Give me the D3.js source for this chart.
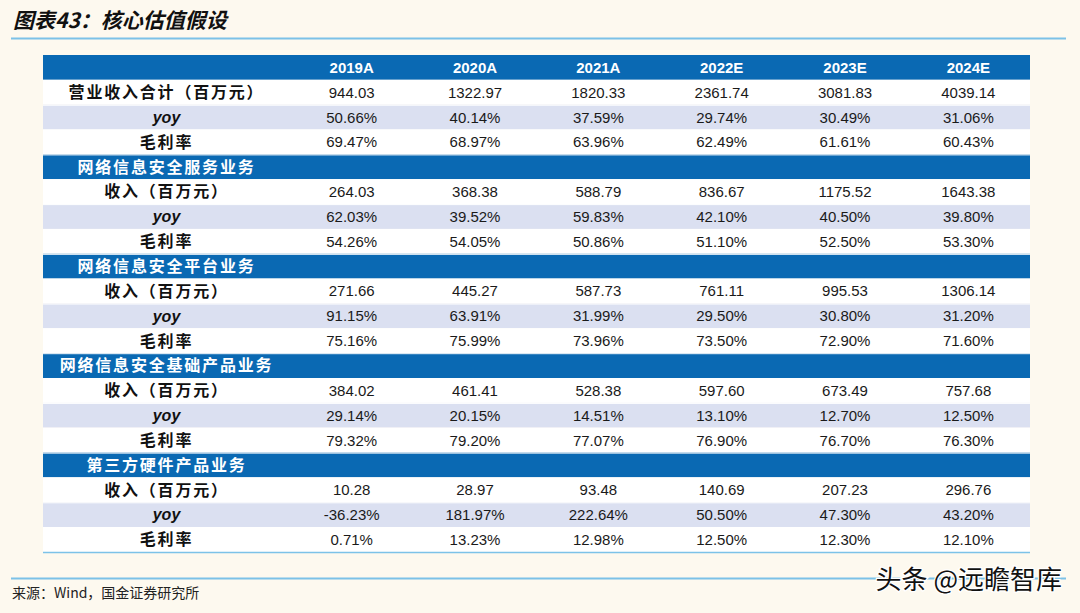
<!DOCTYPE html>
<html><head><meta charset="utf-8">
<script src="https://cdnjs.cloudflare.com/ajax/libs/d3/7.8.5/d3.min.js"></script>
<style>
html,body{margin:0;padding:0;background:#fdf9ef;}
svg{display:block;}
</style></head>
<body>
<svg id="chart" width="1080" height="613"></svg>
<script>
const title = "图表43：核心估值假设";
const source = "来源：Wind，国金证券研究所";
const watermark = "头条 @远瞻智库";
const years = ["2019A","2020A","2021A","2022E","2023E","2024E"];
const sections = ["", "网络信息安全服务业务", "网络信息安全平台业务", "网络信息安全基础产品业务", "第三方硬件产品业务"];
const revLabels = ["营业收入合计（百万元）", "收入（百万元）", "收入（百万元）", "收入（百万元）", "收入（百万元）"];
const totalRev = [944.03,1322.97,1820.33,2361.74,3081.83,4039.14];
const totalYoy = [50.66,40.14,37.59,29.74,30.49,31.06];
const totalGm = [69.47,68.97,63.96,62.49,61.61,60.43];
const serviceRev = [264.03,368.38,588.79,836.67,1175.52,1643.38];
const serviceYoy = [62.03,39.52,59.83,42.10,40.50,39.80];
const serviceGm = [54.26,54.05,50.86,51.10,52.50,53.30];
const platformRev = [271.66,445.27,587.73,761.11,995.53,1306.14];
const platformYoy = [91.15,63.91,31.99,29.50,30.80,31.20];
const platformGm = [75.16,75.99,73.96,73.50,72.90,71.60];
const basicRev = [384.02,461.41,528.38,597.60,673.49,757.68];
const basicYoy = [29.14,20.15,14.51,13.10,12.70,12.50];
const basicGm = [79.32,79.20,77.07,76.90,76.70,76.30];
const hwRev = [10.28,28.97,93.48,140.69,207.23,296.76];
const hwYoy = [-36.23,181.97,222.64,50.50,47.30,43.20];
const hwGm = [0.71,13.23,12.98,12.50,12.30,12.10];

const groups = [
  [totalRev,totalYoy,totalGm],
  [serviceRev,serviceYoy,serviceGm],
  [platformRev,platformYoy,platformGm],
  [basicRev,basicYoy,basicGm],
  [hwRev,hwYoy,hwGm]
];

// build row table
const rows = [{type:"header", label:"", values:years}];
groups.forEach((g,i)=>{
  if(sections[i]) rows.push({type:"section", label:sections[i], values:[]});
  rows.push({type:"rev", label:revLabels[i], values:g[0].map(v=>v.toFixed(2))});
  rows.push({type:"yoy", label:"yoy", values:g[1].map(v=>v.toFixed(2)+"%")});
  rows.push({type:"gm", label:"毛利率", values:g[2].map(v=>v.toFixed(2)+"%")});
});

const svg = d3.select("#chart");
const BLUE = "#0a69b3";
const LINE = "#7cc2e8";
const CJK = "'Noto Sans CJK SC','Noto Sans CJK JP',sans-serif";
const LAT = "'Liberation Sans',Arial,sans-serif";

// title
svg.append("text").attr("x",13).attr("y",28)
  .style("font-family",CJK).style("font-size","21px").style("font-weight","bold")
  .style("font-style","italic").attr("fill","#111").text(title);
svg.append("line").attr("x1",11).attr("x2",1066).attr("y1",38.5).attr("y2",38.5)
  .attr("stroke",LINE).attr("stroke-width",2);

const tableLeft = 43, labelRight = 290, tableRight = 1030;
const tableTop = 55, tableBottom = 552;
const y = d3.scaleBand().domain(d3.range(rows.length)).range([tableTop,tableBottom]).padding(0);
const x = d3.scaleBand().domain(years).range([labelRight,tableRight]).padding(0);
const labelCenter = (tableLeft+labelRight)/2;

const fillFor = t => (t==="header"||t==="section") ? BLUE : (t==="yoy" ? "#dbe0f1" : "#ffffff");

const rg = svg.append("g").selectAll("g").data(rows).join("g")
  .attr("transform",(d,i)=>`translate(0,${y(i)})`);
rg.append("rect").attr("x",tableLeft).attr("width",tableRight-tableLeft)
  .attr("height",y.bandwidth()).attr("fill",d=>fillFor(d.type));
// thin white separators
rg.filter((d,i)=>i>0).append("line").attr("x1",tableLeft).attr("x2",tableRight)
  .attr("y1",0.5).attr("y2",0.5).attr("stroke","#ffffff").attr("stroke-width",1);

const mid = y.bandwidth()/2;
rg.append("text")
  .attr("x",labelCenter).attr("y",mid).attr("dy","0.36em").attr("text-anchor","middle")
  .style("font-family",d=>d.type==="yoy"?LAT:CJK)
  .style("font-size","16px")
  .style("font-weight","bold")
  .style("font-style",d=>d.type==="yoy"?"italic":"normal")
  .style("letter-spacing",d=>d.type==="yoy"?"0px":"1.8px")
  .attr("fill",d=>d.type==="section"?"#ffffff":"#111")
  .text(d=>d.label);

rg.selectAll("text.v").data(d=>d.values.map((v,j)=>({v,j,type:d.type}))).join("text")
  .attr("class","v")
  .attr("x",d=>x(years[d.j])+x.bandwidth()/2).attr("y",mid).attr("dy","0.36em")
  .attr("text-anchor","middle")
  .style("font-family",LAT).style("font-size","15px")
  .style("font-weight",d=>d.type==="header"?"bold":"normal")
  .attr("fill",d=>d.type==="header"?"#ffffff":"#1a1a1a")
  .text(d=>d.v);

// bottom table line
svg.append("line").attr("x1",tableLeft).attr("x2",tableRight).attr("y1",tableBottom+0.5).attr("y2",tableBottom+0.5)
  .attr("stroke",LINE).attr("stroke-width",1.5);

// footer line and source
svg.append("line").attr("x1",11).attr("x2",1066).attr("y1",578.5).attr("y2",578.5)
  .attr("stroke",LINE).attr("stroke-width",2);
svg.append("text").attr("x",12).attr("y",598)
  .style("font-family",CJK).style("font-size","14px").attr("fill","#222").text(source);

// watermark
svg.append("text").attr("x",1062).attr("y",589).attr("text-anchor","end")
  .style("font-family",CJK).style("font-size","26px")
  .attr("fill","#111").attr("stroke","#ffffff").attr("stroke-width",2.5).attr("paint-order","stroke")
  .text(watermark);
</script>
</body></html>
